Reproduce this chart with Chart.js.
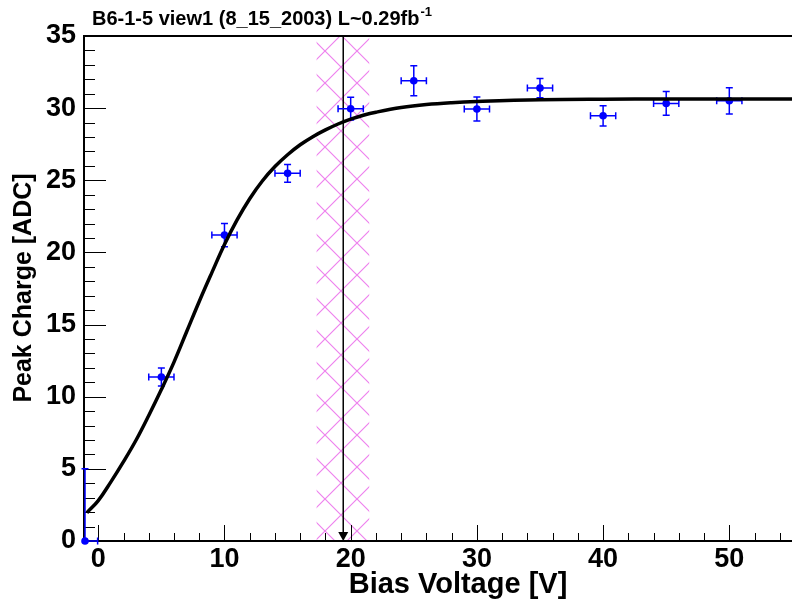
<!DOCTYPE html>
<html>
<head>
<meta charset="utf-8">
<script src="https://cdn.jsdelivr.net/npm/chart.js@4.4.1/dist/chart.umd.min.js"></script>
<style>
  html, body { margin: 0; padding: 0; background: #fff; overflow: hidden; }
  canvas { display: block; }
</style>
</head>
<body>
<canvas id="grafico" width="792" height="604"></canvas>
<script>
/* Peak charge vs bias voltage, ROOT-style */

// ---- Datos ----
const biasV   = [-1.05, 5, 10, 15, 20, 25, 30, 35, 40, 45, 50];
const peakAdc = [0, 11.37, 21.2, 25.48, 29.96, 31.9, 29.94, 31.39, 29.47, 30.33, 30.51];
const errAdc  = [5, 0.62, 0.8, 0.62, 0.79, 1.04, 0.83, 0.67, 0.7, 0.82, 0.91];
const errBias = [1, 1, 1, 1, 1, 1, 1, 1, 1, 1, 1];

// curva de ajuste
const fitBias = [-0.9, 0, 1, 2, 3, 4, 5, 6, 7, 8, 9, 10, 11, 12, 13, 14, 15, 16, 17, 18, 19, 20, 21, 22, 24, 26, 28, 30, 35, 40, 45, 50, 55];
const fitAdc  = [1.96, 2.8, 4.1, 5.5, 7.0, 8.7, 10.5, 12.4, 14.5, 16.6, 18.6, 20.55, 22.25, 23.72, 24.95, 25.95, 26.77, 27.46, 28.02, 28.49, 28.9, 29.24, 29.51, 29.72, 30.04, 30.25, 30.38, 30.46, 30.58, 30.62, 30.63, 30.63, 30.63];

const xTicks = [0, 10, 20, 30, 40, 50];
const yTicks = [0, 5, 10, 15, 20, 25, 30, 35];

const depletionBand = [17.3, 21.47];
const depletionV = 19.41;

const FONT = "'Liberation Sans', Arial, Helvetica, sans-serif";

function hatchPattern(ctx) {
  const s = 32;
  const c = document.createElement('canvas');
  c.width = s; c.height = s;
  const g = c.getContext('2d');
  g.strokeStyle = '#ee82ee';
  g.lineWidth = 1.2;
  g.beginPath();
  g.moveTo(-2, -2); g.lineTo(s + 2, s + 2);
  g.moveTo(s + 2, -2); g.lineTo(-2, s + 2);
  g.stroke();
  const p = ctx.createPattern(c, 'repeat');
  if (p.setTransform) p.setTransform(new DOMMatrix().translate(5, 19));
  return p;
}

const rootStyle = {
  id: 'rootStyle',
  beforeDatasetsDraw(chart) {
    const { ctx, chartArea: a, scales: { x, y } } = chart;
    ctx.save();

    // banda rayada
    const x0 = x.getPixelForValue(depletionBand[0]);
    const x1 = x.getPixelForValue(depletionBand[1]);
    ctx.fillStyle = hatchPattern(ctx);
    ctx.fillRect(x0, a.top, x1 - x0, a.bottom - a.top);

    // marco (llega hasta el borde derecho del lienzo)
    ctx.strokeStyle = '#000';
    ctx.lineWidth = 2;
    ctx.beginPath();
    ctx.moveTo(chart.width, a.top); ctx.lineTo(a.left, a.top);
    ctx.lineTo(a.left, a.bottom); ctx.lineTo(chart.width, a.bottom);
    ctx.stroke();

    // marcas hacia dentro
    ctx.lineWidth = 1;
    ctx.beginPath();
    for (let v = 0; v <= x.max; v += 2) {
      const px = Math.round(x.getPixelForValue(v)) + 0.5;
      const len = xTicks.includes(v) ? 16 : 8;
      ctx.moveTo(px, a.bottom); ctx.lineTo(px, a.bottom - len);
    }
    for (let v = 0; v <= y.max; v += 1) {
      const py = Math.round(y.getPixelForValue(v)) + 0.5;
      const len = yTicks.includes(v) ? 22 : 11;
      ctx.moveTo(a.left, py); ctx.lineTo(a.left + len, py);
    }
    ctx.stroke();

    // linea vertical con flecha
    const vx = x.getPixelForValue(depletionV);
    ctx.lineWidth = 1.5;
    ctx.beginPath();
    ctx.moveTo(vx, a.top); ctx.lineTo(vx, a.bottom - 8);
    ctx.stroke();
    ctx.fillStyle = '#000';
    ctx.beginPath();
    ctx.moveTo(vx - 5, a.bottom - 9);
    ctx.lineTo(vx + 5, a.bottom - 9);
    ctx.lineTo(vx, a.bottom);
    ctx.closePath();
    ctx.fill();

    // barras de error
    ctx.strokeStyle = '#0000ff';
    ctx.lineWidth = 1.5;
    const cap = 3.5;
    biasV.forEach((v, i) => {
      const px = x.getPixelForValue(v);
      const py = y.getPixelForValue(peakAdc[i]);
      const yt = y.getPixelForValue(peakAdc[i] + errAdc[i]);
      const yb = Math.min(y.getPixelForValue(peakAdc[i] - errAdc[i]), a.bottom);
      const xl = Math.max(x.getPixelForValue(v - errBias[i]), a.left);
      const xr = x.getPixelForValue(v + errBias[i]);
      ctx.beginPath();
      ctx.moveTo(px, yt); ctx.lineTo(px, yb);
      ctx.moveTo(px - cap, yt); ctx.lineTo(px + cap, yt);
      if (yb < a.bottom) { ctx.moveTo(px - cap, yb); ctx.lineTo(px + cap, yb); }
      ctx.moveTo(xl, py); ctx.lineTo(xr, py);
      if (xl > a.left) { ctx.moveTo(xl, py - cap); ctx.lineTo(xl, py + cap); }
      ctx.moveTo(xr, py - cap); ctx.lineTo(xr, py + cap);
      ctx.stroke();
    });
    ctx.restore();
  },
  afterDraw(chart) {
    const { ctx } = chart;
    ctx.save();
    ctx.fillStyle = '#000';
    ctx.textBaseline = 'alphabetic';

    // titulo
    ctx.font = `bold 20px ${FONT}`;
    ctx.textAlign = 'left';
    const t = 'B6-1-5 view1 (8_15_2003) L~0.29fb';
    ctx.fillText(t, 92, 25);
    const w = ctx.measureText(t).width;
    ctx.font = `bold 13px ${FONT}`;
    ctx.fillText('-1', 92 + w + 1, 16);

    // titulos de ejes
    ctx.font = `bold 29px ${FONT}`;
    ctx.textAlign = 'center';
    ctx.fillText('Bias Voltage [V]', 458, 593);
    ctx.font = `bold 25px ${FONT}`;
    ctx.translate(31, 288);
    ctx.rotate(-Math.PI / 2);
    ctx.fillText('Peak Charge [ADC]', 0, 0);
    ctx.restore();
  },
};

const ticksFont = { family: FONT, size: 27, weight: 'bold' };

new Chart(document.getElementById('grafico'), {
  type: 'scatter',
  data: {
    datasets: [
      {
        type: 'line',
        label: 'fit',
        data: fitBias.map((v, i) => ({ x: v, y: fitAdc[i] })),
        borderColor: '#000',
        borderWidth: 3.5,
        pointRadius: 0,
        fill: false,
        tension: 0.4,
        clip: { left: 0, top: 0, right: 6, bottom: 0 },
      },
      {
        label: 'peak',
        data: biasV.map((v, i) => ({ x: v, y: peakAdc[i] })),
        backgroundColor: '#0000ff',
        borderColor: '#0000ff',
        pointRadius: 3.8,
        pointBorderWidth: 0,
        clip: false,
      },
    ],
  },
  options: {
    responsive: false,
    animation: false,
    events: [],
    layout: { padding: { top: 36, left: 0, right: 0, bottom: 0 } },
    plugins: { legend: { display: false }, tooltip: { enabled: false } },
    scales: {
      x: {
        type: 'linear', min: -1.13, max: 54.65,
        afterBuildTicks: (s) => { s.ticks = xTicks.map((v) => ({ value: v })); },
        afterFit: (s) => { s.height = 63; s.paddingLeft = 0; s.paddingRight = 0; },
        ticks: { font: ticksFont, color: '#000', padding: 2, maxRotation: 0, autoSkip: false, callback: (v) => String(v) },
        grid: { display: false, drawTicks: false },
        border: { display: false },
      },
      y: {
        type: 'linear', min: 0, max: 35,
        afterBuildTicks: (s) => { s.ticks = yTicks.map((v) => ({ value: v })); },
        afterFit: (s) => { s.width = 84; s.paddingTop = 0; s.paddingBottom = 0; },
        ticks: { font: ticksFont, color: '#000', padding: 8, autoSkip: false, callback: (v) => String(v) },
        grid: { display: false, drawTicks: false },
        border: { display: false },
      },
    },
  },
  plugins: [rootStyle],
});
</script>
</body>
</html>
